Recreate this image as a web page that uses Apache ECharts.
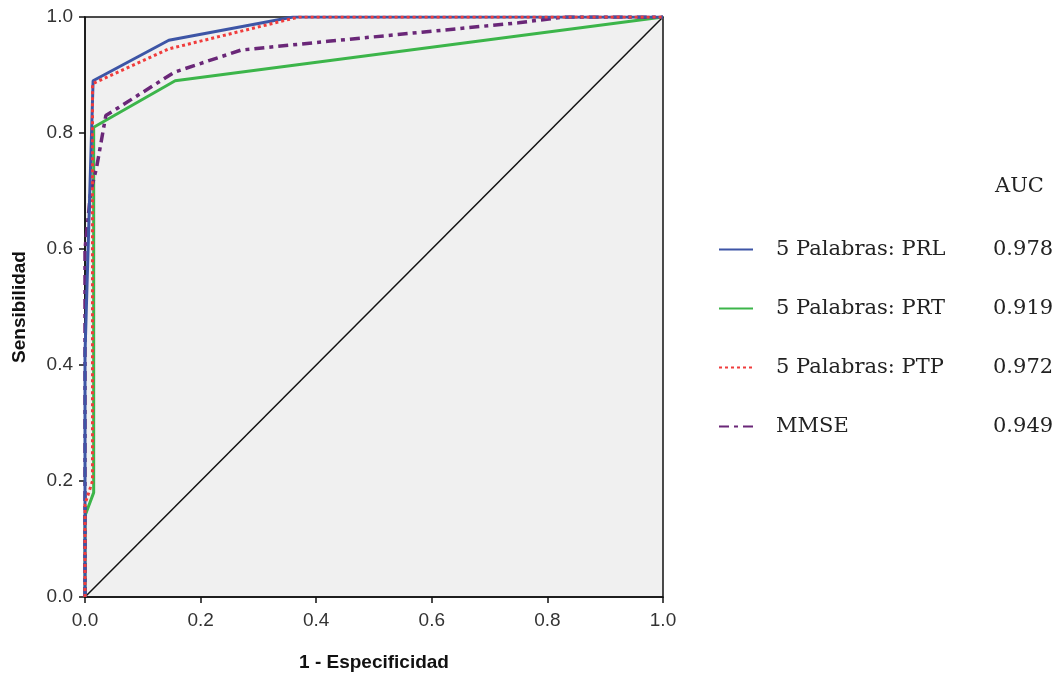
<!DOCTYPE html>
<html lang="es">
<head>
<meta charset="UTF-8">
<script src="https://cdn.jsdelivr.net/npm/echarts@6/dist/echarts.min.js"></script>
<title>Curva ROC</title>
<style>
  html, body { margin: 0; padding: 0; background: #fff; }
</style>
</head>
<body>
<div id="main" style="width:1058px;height:675px;"></div>
<script>
// datos: [1 - especificidad, sensibilidad]
var seriesNames = ['5 Palabras: PRL', '5 Palabras: PRT', '5 Palabras: PTP', 'MMSE'];
var aucValues = ['0.978', '0.919', '0.972', '0.949'];
var prl = [[0, 0], [0, 0.42], [0.014, 0.89], [0.145, 0.96], [0.36, 1], [1, 1]];
var prt = [[0, 0], [0, 0.14], [0.015, 0.18], [0.015, 0.81], [0.156, 0.89], [1, 1]];
var ptp = [[0, 0], [0, 0.16], [0.013, 0.2], [0.013, 0.885], [0.145, 0.945], [0.37, 1], [1, 1]];
var mmse = [[0, 0], [0, 0.6], [0.01, 0.7], [0.02, 0.74], [0.036, 0.83], [0.155, 0.905],
            [0.27, 0.943], [0.42, 0.958], [0.75, 0.99], [0.83, 1], [1, 1]];
var diagonal = [[0, 0], [1, 1]];
var tickValues = [0, 0.2, 0.4, 0.6, 0.8, 1.0];

var myChart = echarts.init(document.getElementById('main'));

var serif = '"DejaVu Serif", "Liberation Serif", serif';
var labelFont = { color: '#333', fontSize: 19, fontFamily: 'Liberation Sans, Arial, sans-serif' };

var option = {
    animation: false,
    backgroundColor: '#fff',
    grid: {
        left: 85, right: 395, top: 17, bottom: 78,
        containLabel: false,
        outerBoundsMode: 'none',
        show: true,
        backgroundColor: '#f0f0f0',
        borderColor: '#111',
        borderWidth: 1.5
    },
    graphic: [{
        type: 'text',
        left: 995,
        top: 176,
        style: {
            text: 'AUC',
            fill: '#222',
            font: '21px ' + serif
        }
    }],
    legend: {
        data: seriesNames,
        orient: 'vertical',
        left: 713,
        top: 234,
        itemGap: 38,
        itemWidth: 34,
        itemHeight: 14,
        itemStyle: { opacity: 0 },
        textStyle: {
            color: '#222',
            fontSize: 21,
            fontFamily: serif,
            rich: {
                n: { width: 217, padding: [0, 0, 0, 18], fontSize: 21, fontFamily: serif, color: '#222' },
                v: { fontSize: 21, fontFamily: serif, color: '#222' }
            }
        },
        formatter: function (name) {
            var i = seriesNames.indexOf(name);
            return '{n|' + name + '}{v|' + aucValues[i] + '}';
        },
        selectedMode: false
    },
    xAxis: {
        type: 'value',
        min: 0, max: 1, interval: 0.2,
        name: '1 - Especificidad',
        nameLocation: 'middle',
        nameGap: 56,
        nameTextStyle: { fontSize: 19, fontWeight: 'bold', color: '#111', fontFamily: 'Liberation Sans, Arial, sans-serif' },
        axisLine: { show: true, onZero: false, lineStyle: { color: '#111', width: 1.5 } },
        axisTick: { show: true, length: 6, lineStyle: { color: '#111', width: 1.5 } },
        axisLabel: Object.assign({ margin: 14, formatter: function (v) { return v.toFixed(1); } }, labelFont),
        splitLine: { show: false }
    },
    yAxis: {
        type: 'value',
        min: 0, max: 1, interval: 0.2,
        name: 'Sensibilidad',
        nameLocation: 'middle',
        nameGap: 56,
        nameRotate: 90,
        nameTextStyle: { fontSize: 19, fontWeight: 'bold', color: '#111', fontFamily: 'Liberation Sans, Arial, sans-serif' },
        axisLine: { show: true, onZero: false, lineStyle: { color: '#111', width: 1.5 } },
        axisTick: { show: true, length: 6, lineStyle: { color: '#111', width: 1.5 } },
        axisLabel: Object.assign({ margin: 12, formatter: function (v) { return v.toFixed(1); } }, labelFont),
        splitLine: { show: false }
    },
    series: [
        {
            name: 'diagonal',
            type: 'line',
            data: diagonal,
            symbol: 'none',
            silent: true,
            lineStyle: { color: '#111', width: 1.5 },
            z: 1
        },
        {
            name: seriesNames[1],
            type: 'line',
            data: prt,
            symbol: 'none',
            color: '#3cb54a',
            lineStyle: { color: '#3cb54a', width: 3 },
            z: 2
        },
        {
            name: seriesNames[3],
            type: 'line',
            data: mmse,
            symbol: 'none',
            color: '#6a2778',
            lineStyle: { color: '#6a2778', width: 3.5, type: [10, 5, 4, 5] },
            z: 3
        },
        {
            name: seriesNames[0],
            type: 'line',
            data: prl,
            symbol: 'none',
            color: '#3d55a6',
            lineStyle: { color: '#3d55a6', width: 3 },
            z: 4
        },
        {
            name: seriesNames[2],
            type: 'line',
            data: ptp,
            symbol: 'none',
            color: '#f03c3c',
            lineStyle: { color: '#f03c3c', width: 3, type: [3, 3] },
            z: 5
        }
    ]
};

myChart.setOption(option);
</script>
</body>
</html>
